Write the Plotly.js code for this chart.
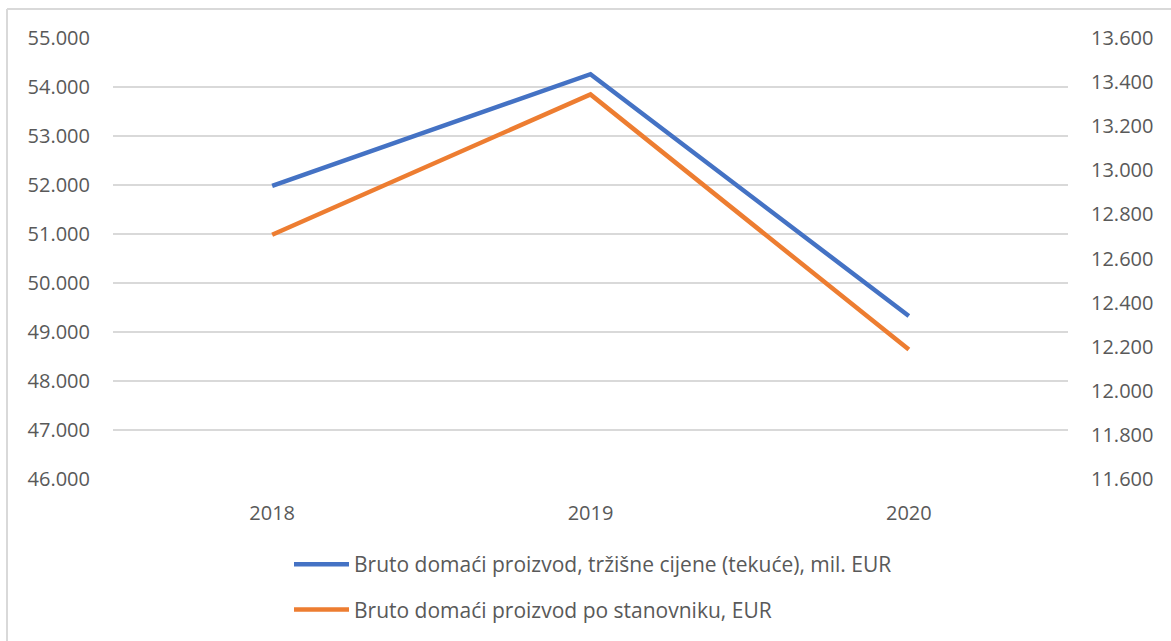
<!DOCTYPE html>
<html>
<head>
<meta charset="utf-8">
<script src="https://cdn.plot.ly/plotly-3.0.1.min.js"></script>
<style>
  html, body { margin: 0; padding: 0; background: #ffffff; }
  #chart { width: 1171px; height: 641px; }
</style>
</head>
<body>
<div id="chart"></div>
<script>
const years = ['2018', '2019', '2020'];
const gdpMilEur = [51980, 54262, 49326];
const gdpPerCapitaEur = [12708, 13344, 12187];
const seriesNames = [
  'Bruto domaći proizvod, tržišne cijene (tekuće), mil. EUR',
  'Bruto domaći proizvod po stanovniku, EUR'
];

const W = 1171, H = 641;
const L = 113, R = 103, T = 38, B = 161;
const pw = W - L - R, ph = H - T - B;
const px = p => (p - L) / pw;
const py = p => (H - B - p) / ph;

const font = 'Open Sans, Noto Sans, sans-serif';
const tickColor = '#595959';

const traces = [
  {
    x: years, y: gdpMilEur, type: 'scatter', mode: 'lines',
    name: seriesNames[0], yaxis: 'y', legendgroup: 'a',
    line: { color: '#4472C4', width: 4.5 }
  },
  {
    x: years, y: gdpPerCapitaEur, type: 'scatter', mode: 'lines',
    name: seriesNames[1], yaxis: 'y2', legendgroup: 'b',
    line: { color: '#ED7D31', width: 4.5 }
  }
];

const layout = {
  width: W, height: H,
  margin: { l: L, r: R, t: T, b: B },
  paper_bgcolor: '#ffffff', plot_bgcolor: '#ffffff',
  separators: ',.',
  font: { family: font, size: 20, color: tickColor },
  showlegend: true,
  legend: {
    orientation: 'v', x: px(289), xanchor: 'left', y: py(544), yanchor: 'top',
    font: { family: font, size: 21, color: tickColor },
    traceorder: 'grouped', tracegroupgap: 15, itemwidth: 55,
    bgcolor: 'rgba(0,0,0,0)'
  },
  xaxis: {
    type: 'category', range: [-0.5, 2.5],
    showgrid: false, zeroline: false, showline: false, ticks: '',
    tickfont: { family: font, size: 20, color: tickColor },
    ticklabelstandoff: 20
  },
  yaxis: {
    range: [46000, 55000], dtick: 1000, tick0: 46000,
    tickformat: ',.0f',
    showgrid: true, gridcolor: '#d9d9d9', gridwidth: 1.5,
    zeroline: false, showline: false, ticks: '',
    tickfont: { family: font, size: 20, color: tickColor },
    ticklabelstandoff: 22
  },
  yaxis2: {
    range: [11600, 13600], dtick: 200, tick0: 11600,
    tickformat: ',.0f',
    overlaying: 'y', side: 'right',
    showgrid: false, zeroline: false, showline: false, ticks: '',
    tickfont: { family: font, size: 20, color: tickColor },
    ticklabelstandoff: 22
  },
  shapes: [
    {
      type: 'line', xref: 'paper', yref: 'paper', layer: 'below',
      x0: px(7), x1: px(7), y0: py(9), y1: py(700),
      line: { color: '#d9d9d9', width: 2 }
    },
    {
      type: 'line', xref: 'paper', yref: 'paper', layer: 'below',
      x0: px(7), x1: px(1200), y0: py(9), y1: py(9),
      line: { color: '#d9d9d9', width: 2 }
    }
  ]
};

Plotly.newPlot('chart', traces, layout, { displayModeBar: false, staticPlot: true });
</script>
</body>
</html>
